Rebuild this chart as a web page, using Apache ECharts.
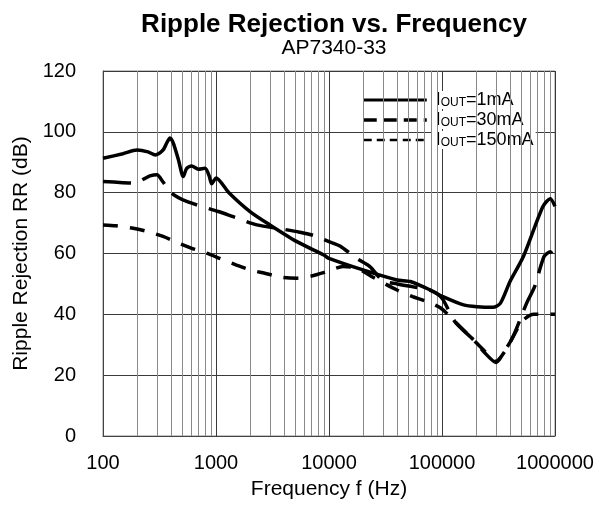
<!DOCTYPE html>
<html>
<head>
<meta charset="utf-8">
<script src="https://cdn.jsdelivr.net/npm/echarts@6/dist/echarts.min.js"></script>
<style>html,body{margin:0;padding:0;background:#fff}#c{width:607px;height:508px}</style>
</head>
<body>
<div id="c"></div>
<script>
// ---- data (frequency in Hz, ripple rejection in dB) ----
const seriesNames = ['IOUT=1mA', 'IOUT=30mA', 'IOUT=150mA'];
const legendParts = [['I', 'OUT', '=1mA'], ['I', 'OUT', '=30mA'], ['I', 'OUT', '=150mA']];

const f1mA = [100, 150, 200, 250, 290, 340, 366, 391, 419, 465, 513, 550, 609, 698, 800, 870, 915, 960, 1000, 1300, 2000, 3000, 5200, 9000, 10000, 20000, 40000, 52400, 78700, 102000, 155000, 204000, 283000, 328000, 400000, 525000, 780000, 910000, 1000000];
const rr1mA = [91.3, 92.8, 94.0, 93.4, 92.4, 94.0, 96.3, 98.0, 96.3, 90.8, 85.3, 88.0, 88.8, 87.7, 88.0, 85.5, 82.9, 84.0, 84.8, 80.0, 73.8, 69.4, 63.9, 59.5, 58.4, 54.6, 51.3, 50.8, 48.0, 45.8, 43.1, 42.5, 42.3, 43.6, 50.8, 59.0, 75.4, 78.0, 75.5];

const f30mA = [100, 150, 192, 230, 260, 300, 340, 405, 550, 1050, 1420, 2300, 3900, 5500, 7200, 10000, 12500, 17500, 23000, 30000, 40000, 60000, 80000, 100000, 130000, 190000, 230000, 300000, 370000, 430000, 560000, 660000, 800000, 910000, 1000000];
const rr30mA = [83.7, 83.3, 83.1, 84.5, 85.5, 85.9, 83.5, 79.8, 77.1, 73.8, 72.1, 69.4, 68.0, 67.0, 66.0, 63.9, 62.5, 58.4, 55.7, 51.0, 50.0, 48.8, 47.8, 45.3, 37.6, 31.6, 28.0, 24.2, 28.8, 33.0, 43.6, 49.1, 59.0, 60.6, 56.8];

const f150mA = [100, 130, 185, 250, 340, 465, 610, 825, 1080, 1520, 2000, 2700, 3800, 5200, 7000, 9500, 13300, 17700, 25000, 40000, 55000, 73000, 98000, 130000, 190000, 230000, 300000, 370000, 430000, 520000, 650000, 800000, 1000000];
const rr150mA = [69.4, 69.1, 68.3, 67.2, 65.6, 63.4, 61.7, 60.1, 58.4, 56.2, 54.6, 53.5, 52.2, 51.9, 52.6, 54.0, 55.7, 55.2, 52.0, 48.0, 45.8, 44.2, 42.0, 37.6, 31.6, 28.5, 24.5, 28.5, 33.0, 38.0, 40.0, 40.0, 40.0];

const xTickLabels = ['100', '1000', '10000', '100000', '1000000'];
const yTickLabels = ['0', '20', '40', '60', '80', '100', '120'];
const minorMultipliers = [2, 3, 4, 5, 6, 7, 8, 9];
const decades = [100, 1000, 10000, 100000];

const minorLines = [];
decades.forEach(d => minorMultipliers.forEach(m => minorLines.push({ xAxis: d * m })));

const pair = (xs, ys) => xs.map((x, i) => [x, ys[i]]);

const FONT = 'Liberation Sans, Arial, sans-serif';
const chart = echarts.init(document.getElementById('c'), null, { renderer: 'canvas' });

chart.setOption({
  animation: false,
  backgroundColor: '#fff',
  title: [
    { text: 'Ripple Rejection vs. Frequency', left: 329, top: 7, textAlign: 'center',
      textStyle: { fontFamily: FONT, fontSize: 26, fontWeight: 'bold', color: '#000' } },
    { text: 'AP7340-33', left: 329, top: 33, textAlign: 'center',
      textStyle: { fontFamily: FONT, fontSize: 21, fontWeight: 'normal', color: '#000' } }
  ],
  legend: {
    orient: 'vertical',
    left: 357, top: 86,
    itemWidth: 63, itemHeight: 14, itemGap: 2,
    itemStyle: { opacity: 0 },
    data: [
      { name: seriesNames[0], lineStyle: { type: 'solid', width: 3 } },
      { name: seriesNames[1], lineStyle: { type: [13, 7], width: 3.5 } },
      { name: seriesNames[2], lineStyle: { type: [8, 5], width: 2.5 } }
    ],
    formatter: name => {
      const p = legendParts[seriesNames.indexOf(name)];
      return '{a|' + p[0] + '}{s|' + p[1] + '}{a|' + p[2] + '}';
    },
    textStyle: {
      fontFamily: FONT, color: '#000', backgroundColor: '#fff', padding: [0, 2, 0, 4],
      rich: {
        a: { fontFamily: FONT, fontSize: 18, color: '#000', lineHeight: 18, height: 18, verticalAlign: 'bottom' },
        s: { fontFamily: FONT, fontSize: 12, color: '#000', lineHeight: 11, verticalAlign: 'bottom' }
      }
    }
  },
  grid: { left: 103, right: 52, top: 71, bottom: 72, show: true, borderColor: '#8c8c8c', borderWidth: 1 },
  xAxis: {
    type: 'log', logBase: 10, min: 100, max: 1000000,
    name: 'Frequency f (Hz)', nameLocation: 'middle', nameGap: 43,
    nameTextStyle: { fontFamily: FONT, fontSize: 21, color: '#000' },
    axisLine: { show: true, lineStyle: { color: '#444', width: 1 } },
    axisTick: { show: false },
    axisLabel: {
      fontFamily: FONT, fontSize: 20, color: '#000', margin: 17,
      formatter: v => xTickLabels[Math.round(Math.log10(v)) - 2]
    },
    splitLine: { show: true, lineStyle: { color: '#3a3a3a', width: 1 } }
  },
  yAxis: {
    type: 'value', min: 0, max: 120, interval: 20,
    name: 'Ripple Rejection RR (dB)', nameLocation: 'middle', nameGap: 69, nameRotate: 90,
    nameTextStyle: { fontFamily: FONT, fontSize: 21, color: '#000' },
    axisLine: { show: true, lineStyle: { color: '#444', width: 1 } },
    axisTick: { show: false },
    axisLabel: {
      fontFamily: FONT, fontSize: 20, color: '#000', margin: 27,
      formatter: v => yTickLabels[Math.round(v / 20)]
    },
    splitLine: { show: true, lineStyle: { color: '#3a3a3a', width: 1 } }
  },
  series: [
    {
      name: 'minor-grid', type: 'line', data: [], silent: true, z: 1,
      markLine: {
        silent: true, symbol: ['none', 'none'], animation: false,
        label: { show: false },
        lineStyle: { color: '#8a8a8a', width: 1, type: 'solid' },
        emphasis: { disabled: true },
        data: minorLines
      }
    },
    {
      name: seriesNames[0], type: 'line', data: pair(f1mA, rr1mA), smooth: 0.25,
      symbol: 'none', z: 5, lineStyle: { color: '#000', width: 3.5, type: 'solid' }, itemStyle: { color: '#000' }
    },
    {
      name: seriesNames[1], type: 'line', data: pair(f30mA, rr30mA), smooth: 0.25,
      symbol: 'none', z: 5, lineStyle: { color: '#000', width: 3.5, type: [28, 12] }, itemStyle: { color: '#000' }
    },
    {
      name: seriesNames[2], type: 'line', data: pair(f150mA, rr150mA), smooth: 0.25,
      symbol: 'none', z: 5, lineStyle: { color: '#000', width: 3.5, type: [15, 12] }, itemStyle: { color: '#000' }
    }
  ]
});
</script>
</body>
</html>
